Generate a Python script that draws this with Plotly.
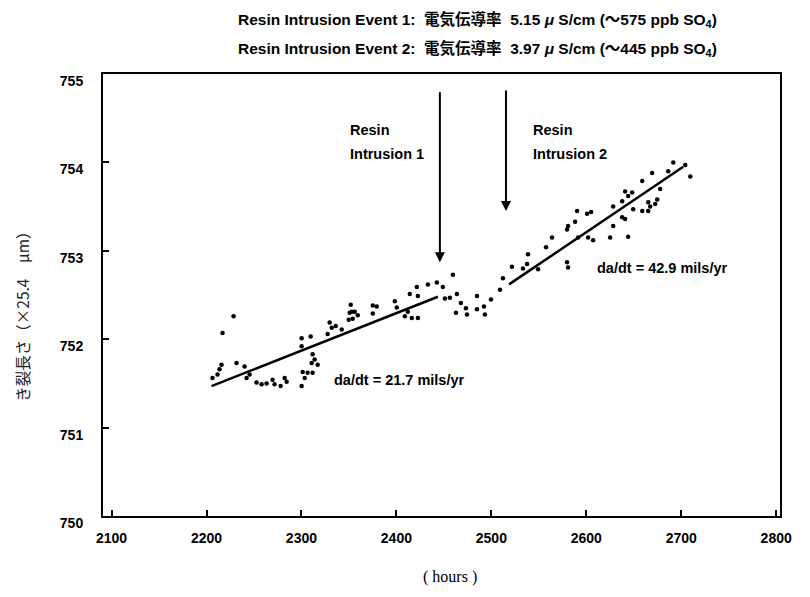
import plotly.graph_objects as go

# ---- data ----
hours = [
    2228.5, 2216.9, 2231.6, 2215.8, 2213.7, 2211.6, 2206.3, 2240.1, 2242.2, 2245.4,
    2252.7, 2258.0, 2263.3, 2269.6, 2271.7, 2278.1, 2284.4, 2282.3, 2300.2, 2303.4,
    2301.3, 2306.5, 2311.8, 2310.8, 2313.9, 2311.8, 2317.1, 2300.2, 2309.7, 2300.2,
    2329.7, 2331.9, 2327.6, 2336.1, 2342.4, 2351.9, 2353.0, 2350.8, 2356.1, 2359.3,
    2354.0, 2349.8, 2375.1, 2379.3, 2375.1, 2398.3, 2400.4, 2414.1, 2421.5, 2422.6,
    2412.0, 2408.9, 2416.2, 2422.6, 2433.1, 2442.6, 2448.9, 2451.1, 2456.3, 2463.7,
    2462.7, 2459.5, 2467.9, 2473.2, 2474.3, 2484.8, 2484.8, 2492.2, 2493.2, 2499.6,
    2509.1, 2512.2, 2521.7, 2533.3, 2537.6, 2538.6, 2549.2, 2557.6, 2563.9, 2579.7,
    2580.8, 2579.7, 2580.8, 2588.2, 2590.3, 2600.8, 2605.1, 2591.4, 2601.9, 2607.2,
    2625.1, 2644.1, 2628.3, 2628.3, 2637.8, 2640.9, 2637.8, 2640.9, 2644.1, 2648.3,
    2649.4, 2658.9, 2658.9, 2665.2, 2667.3, 2665.2, 2672.6, 2674.7, 2677.8, 2669.4,
    2686.3, 2691.6, 2704.2, 2709.5,
]
crack_len = [
    752.26, 752.07, 751.73, 751.71, 751.66, 751.60, 751.56, 751.69, 751.56, 751.60,
    751.51, 751.49, 751.50, 751.54, 751.49, 751.47, 751.52, 751.56, 751.47, 751.56,
    751.63, 751.62, 751.62, 751.73, 751.77, 751.83, 751.71, 752.01, 752.03, 751.92,
    752.19, 752.13, 752.06, 752.15, 752.11, 752.39, 752.31, 752.30, 752.31, 752.27,
    752.23, 752.22, 752.38, 752.37, 752.29, 752.43, 752.36, 752.51, 752.59, 752.49,
    752.31, 752.26, 752.24, 752.24, 752.62, 752.64, 752.59, 752.46, 752.47, 752.51,
    752.30, 752.73, 752.41, 752.35, 752.28, 752.49, 752.34, 752.37, 752.28, 752.45,
    752.56, 752.69, 752.82, 752.80, 752.85, 752.96, 752.79, 753.04, 753.15, 752.87,
    752.81, 753.24, 753.28, 753.33, 753.45, 753.42, 753.44, 753.15, 753.15, 753.12,
    753.15, 753.16, 753.28, 753.50, 753.38, 753.36, 753.56, 753.67, 753.62, 753.66,
    753.47, 753.79, 753.45, 753.45, 753.50, 753.55, 753.53, 753.58, 753.70, 753.88,
    753.90, 754.00, 753.97, 753.84,
]

fit1_x = [2205.3, 2443.7]
fit1_y = [751.47, 752.48]
fit2_x = [2518.6, 2702.1]
fit2_y = [752.62, 753.95]

arrow_x = [2445.8, 2515.4]
arrow_tail_y = [754.81, 754.83]
arrow_tip_y = [752.87, 753.45]

x_ticks = [2100, 2200, 2300, 2400, 2500, 2600, 2700, 2800]
y_ticks = [750, 751, 752, 753, 754, 755]

title1 = "Resin Intrusion Event 1:  電気伝導率  5.15 <i>μ</i> S/cm (～575 ppb SO<sub>4</sub>)"
title2 = "Resin Intrusion Event 2:  電気伝導率  3.97 <i>μ</i> S/cm (～445 ppb SO<sub>4</sub>)"
y_title = "き裂長さ（×25.4　μm）"
x_title = "( hours )"

fig = go.Figure()
fig.add_trace(go.Scatter(x=hours, y=crack_len, mode="markers",
                         marker=dict(color="black", size=4.5), showlegend=False))
fig.add_trace(go.Scatter(x=fit1_x, y=fit1_y, mode="lines",
                         line=dict(color="black", width=2.5), showlegend=False))
fig.add_trace(go.Scatter(x=fit2_x, y=fit2_y, mode="lines",
                         line=dict(color="black", width=2.5), showlegend=False))

bold = dict(family="Liberation Sans, Arial, sans-serif", size=14, color="black", weight="bold")
label_font = dict(family="Liberation Sans, Arial, sans-serif", size=14.5, color="black", weight="bold")

for ax_x, tail, tip in zip(arrow_x, arrow_tail_y, arrow_tip_y):
    fig.add_annotation(x=ax_x, y=tip, ax=ax_x, ay=tail, axref="x", ayref="y",
                       xref="x", yref="y", showarrow=True, arrowhead=2,
                       arrowsize=1, arrowwidth=2, arrowcolor="black", text="")

fig.add_annotation(x=2348.7, y=754.37, text="Resin", showarrow=False, xanchor="left", font=label_font)
fig.add_annotation(x=2348.7, y=754.09, text="Intrusion 1", showarrow=False, xanchor="left", font=label_font)
fig.add_annotation(x=2541.8, y=754.37, text="Resin", showarrow=False, xanchor="left", font=label_font)
fig.add_annotation(x=2541.8, y=754.09, text="Intrusion 2", showarrow=False, xanchor="left", font=label_font)
fig.add_annotation(x=2403.6, y=751.54, text="da/dt = 21.7 mils/yr", showarrow=False, font=label_font)
fig.add_annotation(x=2680.0, y=752.81, text="da/dt = 42.9 mils/yr", showarrow=False, font=label_font)

tfont = dict(family="Liberation Sans, Arial, Noto Sans CJK JP, sans-serif",
             size=15.5, color="black", weight="bold")
fig.add_annotation(x=0.196, y=1.122, xref="paper", yref="paper", text=title1,
                   showarrow=False, xanchor="left", yanchor="middle", font=tfont)
fig.add_annotation(x=0.196, y=1.057, xref="paper", yref="paper", text=title2,
                   showarrow=False, xanchor="left", yanchor="middle", font=tfont)
fig.add_annotation(x=-0.1196, y=0.46, xref="paper", yref="paper", text=y_title,
                   textangle=-90, showarrow=False, xanchor="center", yanchor="middle",
                   font=dict(family="Noto Sans CJK JP, sans-serif", size=15.5, color="#222222"))
fig.add_annotation(x=0.5125, y=-0.138, xref="paper", yref="paper", text=x_title,
                   showarrow=False, xanchor="center", yanchor="middle",
                   font=dict(family="Liberation Serif, Times New Roman, serif", size=16, color="black"))

axis_common = dict(showgrid=False, zeroline=False, showline=True, linecolor="black",
                   linewidth=2, mirror=True, ticks="inside", ticklen=6, tickwidth=1.5,
                   tickcolor="black", tickfont=bold, automargin=False)
fig.update_xaxes(range=[2091, 2804], tickvals=x_ticks, ticktext=[str(v) for v in x_ticks],
                 ticklabelstandoff=8, **axis_common)
fig.update_yaxes(range=[750, 755], tickvals=y_ticks, ticktext=[str(v) for v in y_ticks],
                 ticklabelstandoff=15, ticklabelshift=7, **axis_common)

# page body has an 8px default margin, so the figure is sized to fit inside it
fig.update_layout(width=794, height=581, margin=dict(l=95, r=22, t=66, b=73),
                  plot_bgcolor="white", paper_bgcolor="white")
fig.write_html("out.html")
